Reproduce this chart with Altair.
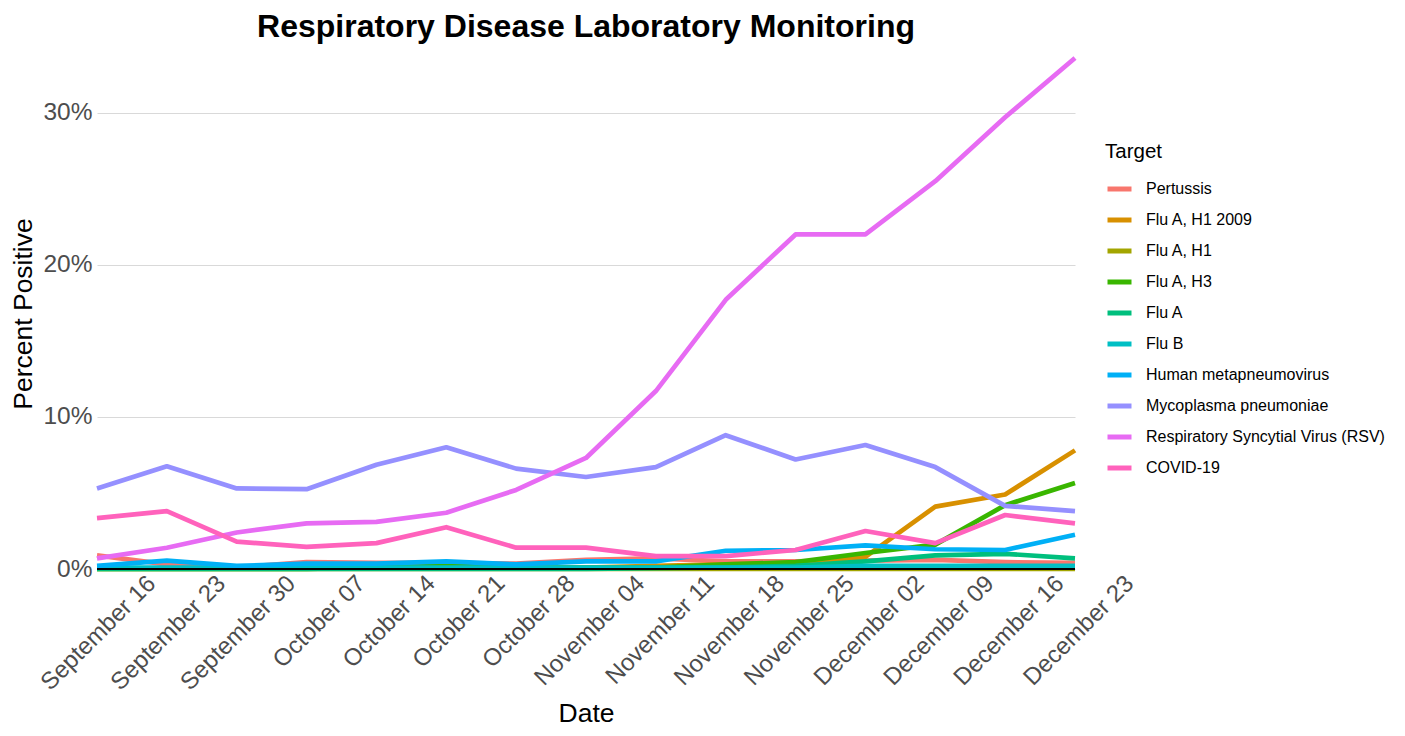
import altair as alt
import pandas as pd

dates = ["September 16", "September 23", "September 30", "October 07", "October 14",
         "October 21", "October 28", "November 04", "November 11", "November 18",
         "November 25", "December 02", "December 09", "December 16", "December 23"]

targets = ["Pertussis", "Flu A, H1 2009", "Flu A, H1", "Flu A, H3", "Flu A", "Flu B",
           "Human metapneumovirus", "Mycoplasma pneumoniae",
           "Respiratory Syncytial Virus (RSV)", "COVID-19"]

colors = ["#F8766D", "#D89000", "#A3A500", "#39B600", "#00BF7D", "#00BFC4",
          "#00B0F6", "#9590FF", "#E76BF3", "#FF62BC"]

pertussis = [0.9, 0.3, 0.1, 0.45, 0.4, 0.4, 0.35, 0.6, 0.7, 0.5, 0.5, 0.55, 0.6, 0.45, 0.4]
flu_a_h1_2009 = [0.05, 0.05, 0.05, 0.05, 0.05, 0.05, 0.05, 0.1, 0.2, 0.3, 0.4, 0.8, 4.1, 4.9, 7.8]
flu_a_h1 = [0.0, 0.0, 0.0, 0.0, 0.0, 0.0, 0.0, 0.0, 0.0, 0.0, 0.0, 0.0, 0.0, 0.0, 0.0]
flu_a_h3 = [0.0, 0.0, 0.0, 0.0, 0.1, 0.2, 0.1, 0.1, 0.1, 0.3, 0.45, 1.05, 1.6, 4.2, 5.65]
flu_a = [0.0, 0.0, 0.0, 0.0, 0.0, 0.0, 0.0, 0.0, 0.05, 0.1, 0.2, 0.5, 0.9, 1.0, 0.7]
flu_b = [0.1, 0.1, 0.1, 0.1, 0.1, 0.1, 0.1, 0.1, 0.1, 0.1, 0.1, 0.2, 0.2, 0.2, 0.2]
hmpv = [0.2, 0.55, 0.2, 0.35, 0.35, 0.5, 0.3, 0.5, 0.5, 1.2, 1.25, 1.55, 1.3, 1.25, 2.25]
mycoplasma = [5.3, 6.75, 5.3, 5.25, 6.85, 8.0, 6.6, 6.05, 6.7, 8.8, 7.2, 8.15, 6.7, 4.15, 3.8]
rsv = [0.7, 1.4, 2.4, 3.0, 3.1, 3.7, 5.2, 7.3, 11.7, 17.7, 22.0, 22.0, 25.5, 29.7, 33.6]
covid = [3.35, 3.8, 1.8, 1.45, 1.7, 2.75, 1.4, 1.4, 0.85, 0.85, 1.25, 2.5, 1.7, 3.55, 3.0]

series = [pertussis, flu_a_h1_2009, flu_a_h1, flu_a_h3, flu_a, flu_b, hmpv,
          mycoplasma, rsv, covid]

rows = []
for t, vals in zip(targets, series):
    for i, (d, v) in enumerate(zip(dates, vals)):
        rows.append({"Date": d, "Week": i, "Target": t, "Percent": v})
df = pd.DataFrame(rows)

FONT = "Liberation Sans"

lines = alt.Chart(df).mark_line(strokeWidth=4.7, strokeCap="butt", strokeJoin="round").encode(
    x=alt.X("Date:O", sort=dates, title="Date",
            scale=alt.Scale(type="point", padding=0),
            axis=alt.Axis(labelAngle=-45, labelAlign="right", labelBaseline="top",
                          labelFontSize=24, labelColor="#4D4D4D", labelFont=FONT,
                          titleFontSize=26.5, titleFont=FONT, titleFontWeight="normal",
                          titleColor="black", ticks=False, domain=False, grid=False,
                          labelPadding=2, labelOffset=46, titlePadding=6,
                          labelOverlap=False, labelBound=False, labelFlush=False)),
    y=alt.Y("Percent:Q", title="Percent Positive",
            scale=alt.Scale(domain=[0, 33.6], nice=False, zero=True),
            axis=alt.Axis(values=[0, 10, 20, 30], labelExpr="datum.value + '%'",
                          labelFontSize=24.5, labelColor="#4D4D4D", labelFont=FONT,
                          titleFontSize=26.5, titleFont=FONT, titleFontWeight="normal",
                          titleColor="black", ticks=False, domain=False,
                          gridColor="#D9D9D9", gridWidth=1, labelPadding=5, titlePadding=5)),
    color=alt.Color("Target:N", sort=targets,
                    scale=alt.Scale(domain=targets, range=colors),
                    legend=alt.Legend(title="Target", orient="none", legendX=1008, legendY=84,
                                      symbolType="stroke", symbolSize=576, symbolStrokeWidth=5,
                                      titleFontSize=20.5, titleFont=FONT, titleFontWeight="normal",
                                      titleColor="black", labelFontSize=16, labelFont=FONT,
                                      labelColor="black", rowPadding=6, titlePadding=12,
                                      labelOffset=12, labelLimit=400)),
    order=alt.Order("Week:Q"),
)

zero = alt.Chart(pd.DataFrame({"y": [0]})).mark_rule(color="black", strokeWidth=2).encode(
    y="y:Q"
)

chart = alt.layer(lines, zero).properties(
    width=978, height=511,
    title=alt.TitleParams("Respiratory Disease Laboratory Monitoring", fontSize=32,
                          font=FONT, fontWeight="bold", color="black", anchor="middle",
                          offset=12),
    autosize=alt.AutoSizeParams(type="none"),
    padding={"left": 89, "top": 50, "right": 322, "bottom": 159},
).configure(background="white").configure_view(strokeWidth=0, stroke=None)

chart.save("out.html", embed_options={"renderer": "svg", "actions": False})
